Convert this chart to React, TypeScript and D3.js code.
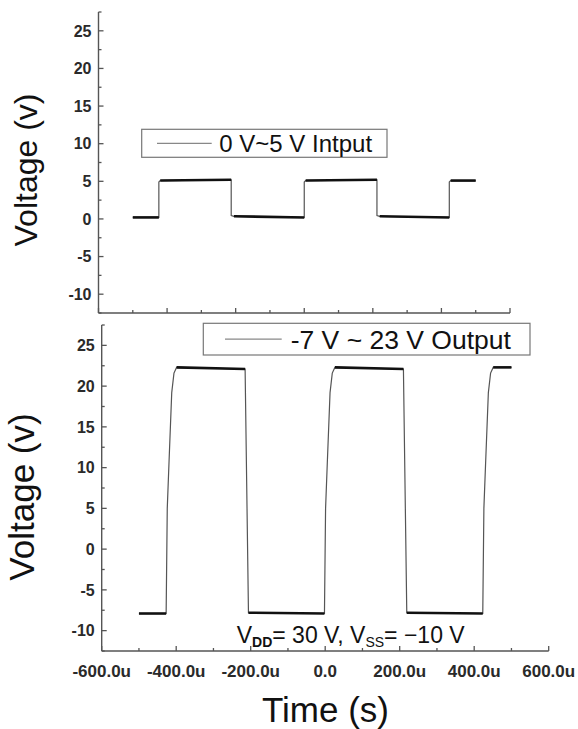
import React from "react";
import * as d3 from "d3";

// waveform breakpoints (time in us, volts)
const inputTime = [-500, -424, -424, -420, -213, -213, -205, 0, 0, 4, 212, 212, 220, 423, 423, 427, 500];
const inputVolt = [0.2, 0.2, 4.9, 5.1, 5.2, 0.45, 0.35, 0.2, 4.9, 5.1, 5.2, 0.45, 0.35, 0.2, 4.9, 5.1, 5.1];

const outputTime = [
  -500, -427, -424, -419, -412, -406, -399, -215, -206,
  -2, 1, 6, 13, 19, 26, 210, 219,
  423, 426, 431, 438, 444, 451, 500,
];
const outputVolt = [
  -7.9, -7.9, 5, 11, 19.2, 21.6, 22.3, 22.1, -7.8,
  -7.9, 5, 11, 19.2, 21.6, 22.3, 22.1, -7.8,
  -7.9, 5, 11, 19.2, 21.6, 22.3, 22.3,
];

// flat (noisy) stretches: [start, end, v start, v end]
const inputFlats = [
  [-500, -424, 0.2, 0.2],
  [-420, -213, 5.1, 5.2],
  [-205, 0, 0.35, 0.2],
  [4, 212, 5.1, 5.2],
  [220, 423, 0.35, 0.2],
  [427, 500, 5.1, 5.1],
];
const outputFlats = [
  [-500, -427, -7.9, -7.9],
  [-399, -215, 22.3, 22.1],
  [-206, -2, -7.8, -7.9],
  [26, 210, 22.3, 22.1],
  [219, 423, -7.8, -7.9],
  [451, 500, 22.3, 22.3],
];

const xTicks = [-600, -400, -200, 0, 200, 400, 600];
const xTickLabels = ["-600.0u", "-400.0u", "-200.0u", "0.0", "200.0u", "400.0u", "600.0u"];
const xMinor = [-500, -300, -100, 100, 300, 500];
const yTicks = [-10, -5, 0, 5, 10, 15, 20, 25];
const yMinor = [-12.5, -7.5, -2.5, 2.5, 7.5, 12.5, 17.5, 22.5, 27.5];

const FONT = "'Liberation Sans', Arial, sans-serif";
const AXIS = "#555";

type PanelProps = {
  x0: number;
  x1: number;
  yTop: number;
  yBot: number;
  time: number[];
  volt: number[];
  flats: number[][];
  showXLabels: boolean;
};

const Panel = ({ x0, x1, yTop, yBot, time, volt, flats, showXLabels }: PanelProps) => {
  const x = d3.scaleLinear().domain([-600, 600]).range([x0, x1]);
  const y = d3.scaleLinear().domain([-12.5, 27.5]).range([yBot, yTop]);

  const pts = time.map((t, i) => [t, volt[i]] as [number, number]);
  const line = d3
    .line<[number, number]>()
    .x((d) => x(d[0]))
    .y((d) => y(d[1]));

  return (
    <g>
      {/* trace */}
      <path d={line(pts) || ""} fill="none" stroke="#555" strokeWidth={1.2} />
      {flats.map((f, i) => (
        <path
          key={i}
          d={line([[f[0], f[2]], [f[1], f[3]]]) || ""}
          fill="none"
          stroke="#111"
          strokeWidth={2.6}
        />
      ))}

      {/* y axis */}
      <line x1={x0} x2={x0} y1={yTop} y2={yBot} stroke={AXIS} strokeWidth={1.4} />
      {yTicks.map((v) => (
        <g key={v}>
          <line x1={x0} x2={x0 + 5} y1={y(v)} y2={y(v)} stroke={AXIS} strokeWidth={1.3} />
          <text
            x={x0 - 7}
            y={y(v)}
            dy="0.36em"
            textAnchor="end"
            fontFamily={FONT}
            fontWeight="bold"
            fontSize={16}
            fill="#2a2a2a"
          >
            {v}
          </text>
        </g>
      ))}
      {yMinor.map((v) => (
        <line key={v} x1={x0} x2={x0 + 3} y1={y(v)} y2={y(v)} stroke={AXIS} strokeWidth={1.3} />
      ))}

      {/* x axis */}
      <line x1={x0} x2={x1} y1={yBot} y2={yBot} stroke={AXIS} strokeWidth={1.4} />
      {xTicks.map((t, i) => (
        <g key={t}>
          <line x1={x(t)} x2={x(t)} y1={yBot} y2={yBot - 5} stroke={AXIS} strokeWidth={1.3} />
          {showXLabels && (
            <text
              x={x(t)}
              y={yBot + 26}
              textAnchor="middle"
              fontFamily={FONT}
              fontWeight="bold"
              fontSize={17}
              fill="#2a2a2a"
            >
              {xTickLabels[i]}
            </text>
          )}
        </g>
      ))}
      {xMinor.map((t) => (
        <line key={t} x1={x(t)} x2={x(t)} y1={yBot} y2={yBot - 3} stroke={AXIS} strokeWidth={1.3} />
      ))}
    </g>
  );
};

type LegendProps = {
  x: number;
  y: number;
  w: number;
  h: number;
  l0: number;
  l1: number;
  tx: number;
  label: string;
  size: number;
};

const Legend = ({ x, y, w, h, l0, l1, tx, label, size }: LegendProps) => (
  <g>
    <rect x={x} y={y} width={w} height={h} fill="white" stroke="#777" strokeWidth={1.2} />
    <line x1={x + l0} x2={x + l1} y1={y + h / 2} y2={y + h / 2} stroke="#888" strokeWidth={1.2} />
    <text x={x + tx} y={y + h / 2} dy="0.36em" fontFamily={FONT} fontSize={size} fill="#111">
      {label}
    </text>
  </g>
);

export default function App() {
  return (
    <svg
      width={578}
      height={729}
      style={{ position: "absolute", left: 0, top: 0, background: "white" }}
    >
      <Panel
        x0={98.5}
        x1={510}
        yTop={12}
        yBot={313}
        time={inputTime}
        volt={inputVolt}
        flats={inputFlats}
        showXLabels={false}
      />
      <Panel
        x0={101.7}
        x1={548.7}
        yTop={325}
        yBot={651}
        time={outputTime}
        volt={outputVolt}
        flats={outputFlats}
        showXLabels={true}
      />

      <Legend x={141.7} y={129.3} w={245.3} h={28} l0={15.3} l1={70} tx={77.6} label="0 V~5 V Intput" size={24} />
      <Legend x={203.3} y={323.3} w={326.7} h={31.7} l0={21.7} l1={78.4} tx={87.4} label="-7 V ~ 23 V Output" size={26.5} />

      <text
        transform="translate(37,170) rotate(-90)"
        textAnchor="middle"
        fontFamily={FONT}
        fontSize={32}
        fill="#111"
      >
        Voltage (v)
      </text>
      <text
        transform="translate(33.5,497) rotate(-90)"
        textAnchor="middle"
        fontFamily={FONT}
        fontSize={35}
        fill="#111"
      >
        Voltage (v)
      </text>
      <text x={325.5} y={721.5} textAnchor="middle" fontFamily={FONT} fontSize={35} fill="#111">
        Time (s)
      </text>

      <text x={236.7} y={643.3} fontFamily={FONT} fontSize={23} fill="#111">
        V
        <tspan fontSize={14} fontWeight="bold" dy={4}>DD</tspan>
        <tspan dy={-4}>= 30 V, V</tspan>
        <tspan fontSize={14} dy={4}>SS</tspan>
        <tspan dy={-4}>= −10 V</tspan>
      </text>
    </svg>
  );
}
